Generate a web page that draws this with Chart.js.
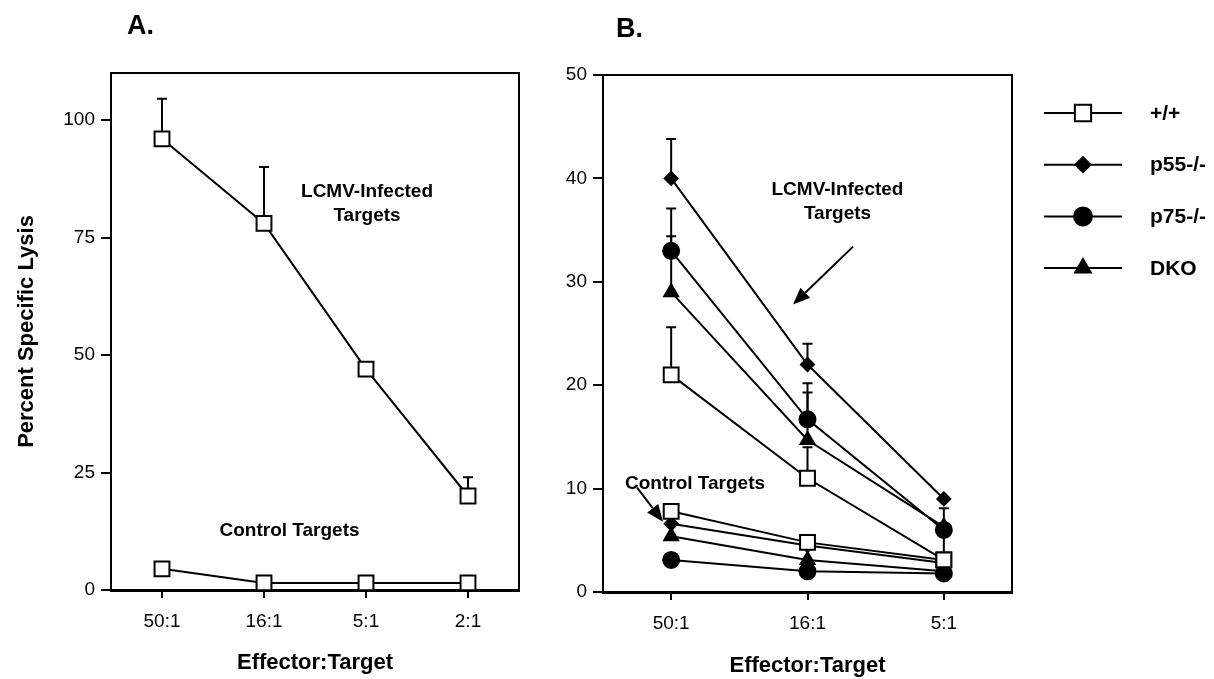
<!DOCTYPE html>
<html>
<head>
<meta charset="utf-8">
<script src="https://cdn.jsdelivr.net/npm/chart.js@4.4.1/dist/chart.umd.min.js"></script>
<style>
  body { margin: 0; background: #fff; }
  #wrap { position: relative; width: 1214px; height: 679px; font-family: "Liberation Sans", Arial, sans-serif; }
  .panel { position: absolute; top: 0; height: 679px; }
  #boxA { left: 0; width: 540px; }
  #boxB { left: 540px; width: 674px; }
  .tag { position: absolute; font-weight: bold; font-size: 27px; line-height: 1; color: #000; }
</style>
</head>
<body>
<div id="wrap">
  <div class="panel" id="boxA"><canvas id="chartA"></canvas></div>
  <div class="panel" id="boxB"><canvas id="chartB"></canvas></div>
  <div class="tag" style="left:127px;top:12px">A.</div>
  <div class="tag" style="left:616px;top:15px">B.</div>
</div>
<script>
// ===============================
// Panel A data
// ===============================
const ratiosA = ["50:1", "16:1", "5:1", "2:1"];
const lcmvA = [96, 78, 47, 20];
const lcmvAErr = [104.5, 90, null, 24];
const controlA = [4.5, 1.5, 1.5, 1.5];
const yTicksA = [0, 25, 50, 75, 100];

// ===============================
// Panel B data
// ===============================
const ratiosB = ["50:1", "16:1", "5:1"];
const genotypes = ["+/+", "p55-/-", "p75-/-", "DKO"];

const wtLcmv = [21, 11, 3.1];
const wtLcmvErr = [25.6, 14, 8.1];
const p55Lcmv = [40, 22, 9];
const p55LcmvErr = [43.8, 24, null];
const p75Lcmv = [33, 16.7, 6];
const p75LcmvErr = [37.1, 20.2, null];
const dkoLcmv = [29, 14.7, 6.3];
const dkoLcmvErr = [34.4, 19.3, null];

const wtCtrl = [7.8, 4.8, 3.1];
const p55Ctrl = [6.6, 4.5, 2.8];
const p75Ctrl = [3.1, 2.0, 1.8];
const dkoCtrl = [5.4, 3.1, 2.0];

const yTicksB = [0, 10, 20, 30, 40, 50];

// ===============================
// Styles
// ===============================
Chart.defaults.font.family = "'Liberation Sans', Arial, sans-serif";
Chart.defaults.color = "#000";

const markers = {
  "+/+":    { pointStyle: "rect",     radius: 10.5, fill: "#fff" },
  "p55-/-": { pointStyle: "rectRot",  radius: 6.5,  fill: "#000" },
  "p75-/-": { pointStyle: "circle",   radius: 8,    fill: "#000" },
  "DKO":    { pointStyle: "triangle", radius: 8,    fill: "#000" }
};

function line(data, geno, err) {
  const m = markers[geno];
  return {
    label: geno,
    data: data,
    errTop: err || null,
    borderColor: "#000",
    borderWidth: 2,
    pointStyle: m.pointStyle,
    pointRadius: m.radius,
    pointBackgroundColor: m.fill,
    pointBorderColor: "#000",
    pointBorderWidth: 2,
    tension: 0,
    fill: false,
    clip: false
  };
}

// ----------
// Plugin : cadre, barres d'erreur, annotations, légende
// ----------
function extras(opts) {
  return {
    id: "extras",
    beforeDatasetsDraw(chart) {
      const ctx = chart.ctx;
      const a = chart.chartArea;
      const ys = chart.scales.y;
      ctx.save();
      ctx.strokeStyle = "#000";
      ctx.lineWidth = 2;
      ctx.beginPath();
      ctx.moveTo(a.left, a.top);
      ctx.lineTo(a.right, a.top);
      ctx.lineTo(a.right, a.bottom);
      ctx.stroke();

      chart.data.datasets.forEach((ds, i) => {
        if (!ds.errTop) return;
        const meta = chart.getDatasetMeta(i);
        ds.errTop.forEach((e, j) => {
          if (e == null) return;
          const x = meta.data[j].x;
          const y0 = ys.getPixelForValue(ds.data[j]);
          const y1 = ys.getPixelForValue(e);
          ctx.beginPath();
          ctx.moveTo(x, y0);
          ctx.lineTo(x, y1);
          ctx.moveTo(x - 5, y1);
          ctx.lineTo(x + 5, y1);
          ctx.stroke();
        });
      });
      ctx.restore();
    },
    afterDraw(chart) {
      const ctx = chart.ctx;
      const a = chart.chartArea;
      const xs = chart.scales.x;
      const ys = chart.scales.y;
      ctx.save();
      ctx.fillStyle = "#000";
      ctx.strokeStyle = "#000";
      ctx.font = "bold 19px 'Liberation Sans', Arial, sans-serif";
      ctx.textAlign = "center";
      ctx.textBaseline = "middle";
      (opts.notes || []).forEach(n => {
        ctx.fillText(n.text, xs.getPixelForValue(n.x), ys.getPixelForValue(n.y));
      });

      (opts.arrows || []).forEach(ar => {
        const x0 = xs.getPixelForValue(ar.from[0]), y0 = ys.getPixelForValue(ar.from[1]);
        const x1 = xs.getPixelForValue(ar.to[0]), y1 = ys.getPixelForValue(ar.to[1]);
        const ang = Math.atan2(y1 - y0, x1 - x0);
        const L = 17, W = 7;
        const bx = x1 - L * Math.cos(ang), by = y1 - L * Math.sin(ang);
        ctx.lineWidth = 2;
        ctx.beginPath();
        ctx.moveTo(x0, y0);
        ctx.lineTo(bx, by);
        ctx.stroke();
        ctx.beginPath();
        ctx.moveTo(x1, y1);
        ctx.lineTo(bx + W * Math.sin(ang), by - W * Math.cos(ang));
        ctx.lineTo(bx - W * Math.sin(ang), by + W * Math.cos(ang));
        ctx.closePath();
        ctx.fill();
      });

      if (opts.legend) {
        ctx.font = "bold 21px 'Liberation Sans', Arial, sans-serif";
        ctx.textAlign = "left";
        opts.legend.forEach((g, i) => {
          const m = markers[g];
          const y = a.top + 38 + i * 51.7;
          const x0 = a.right + 32, x1 = a.right + 110, xm = a.right + 71;
          ctx.lineWidth = 2;
          ctx.strokeStyle = "#000";
          ctx.beginPath();
          ctx.moveTo(x0, y);
          ctx.lineTo(x1, y);
          ctx.stroke();
          ctx.fillStyle = m.fill;
          Chart.helpers.drawPoint(ctx, {
            pointStyle: m.pointStyle, radius: m.radius + 1, rotation: 0, borderWidth: 2
          }, xm, y);
          ctx.fillStyle = "#000";
          ctx.fillText(g, a.right + 138, y + 1);
        });
      }
      ctx.restore();
    }
  };
}

function scales(ticks, max, yWidth, xHeight, yTitle, titleBottom) {
  return {
    x: {
      type: "category",
      offset: true,
      grid: { offset: false, drawOnChartArea: false, drawTicks: true, tickLength: 8, color: "#000", lineWidth: 2 },
      border: { color: "#000", width: 3 },
      ticks: { font: { size: 19 }, padding: 12, color: "#000", maxRotation: 0 },
      title: {
        display: true, text: "Effector:Target",
        font: { size: 22, weight: "bold" },
        padding: { top: 0, bottom: titleBottom }
      },
      afterFit(s) { s.height = xHeight; }
    },
    y: {
      min: 0, max: max,
      afterBuildTicks(s) { s.ticks = ticks.map(v => ({ value: v })); },
      grid: { drawOnChartArea: false, drawTicks: true, tickLength: 10, color: "#000", lineWidth: 2 },
      border: { color: "#000", width: 2 },
      ticks: { font: { size: 19 }, padding: 6, color: "#000" },
      title: {
        display: !!yTitle, text: yTitle || "",
        font: { size: 22, weight: "bold" },
        padding: { top: 14, bottom: 0 }
      },
      afterFit(s) { s.width = yWidth; }
    }
  };
}

// ===============================
// Graphique A
// ===============================
new Chart(document.getElementById("chartA"), {
  type: "line",
  data: {
    labels: ratiosA,
    datasets: [
      line(lcmvA, "+/+", lcmvAErr),
      line(controlA, "+/+")
    ]
  },
  options: {
    responsive: true,
    maintainAspectRatio: false,
    animation: false,
    layout: { padding: { top: 73, right: 21, bottom: 0, left: 0 } },
    plugins: { legend: { display: false }, tooltip: { enabled: false } },
    scales: scales(yTicksA, 110, 111, 89, "Percent Specific Lysis", 3)
  },
  plugins: [extras({
    notes: [
      { text: "LCMV-Infected", x: 2.01, y: 84.8 },
      { text: "Targets", x: 2.01, y: 79.7 },
      { text: "Control Targets", x: 1.25, y: 12.6 }
    ]
  })]
});

// ===============================
// Graphique B
// ===============================
new Chart(document.getElementById("chartB"), {
  type: "line",
  data: {
    labels: ratiosB,
    datasets: [
      line(wtLcmv, "+/+", wtLcmvErr),
      line(wtCtrl, "+/+"),
      line(p55Lcmv, "p55-/-", p55LcmvErr),
      line(p55Ctrl, "p55-/-"),
      line(p75Lcmv, "p75-/-", p75LcmvErr),
      line(p75Ctrl, "p75-/-"),
      line(dkoLcmv, "DKO", dkoLcmvErr),
      line(dkoCtrl, "DKO")
    ]
  },
  options: {
    responsive: true,
    maintainAspectRatio: false,
    animation: false,
    layout: { padding: { top: 75, right: 202, bottom: 0, left: 0 } },
    plugins: { legend: { display: false }, tooltip: { enabled: false } },
    scales: scales(yTicksB, 50, 63, 87, null, 0)
  },
  plugins: [extras({
    notes: [
      { text: "LCMV-Infected", x: 1.22, y: 38.9 },
      { text: "Targets", x: 1.22, y: 36.6 },
      { text: "Control Targets", x: 0.175, y: 10.5 }
    ],
    arrows: [
      { from: [1.334, 33.4], to: [0.894, 27.8] },
      { from: [-0.25, 10.1], to: [-0.06, 6.8] }
    ],
    legend: genotypes
  })]
});
</script>
</body>
</html>
